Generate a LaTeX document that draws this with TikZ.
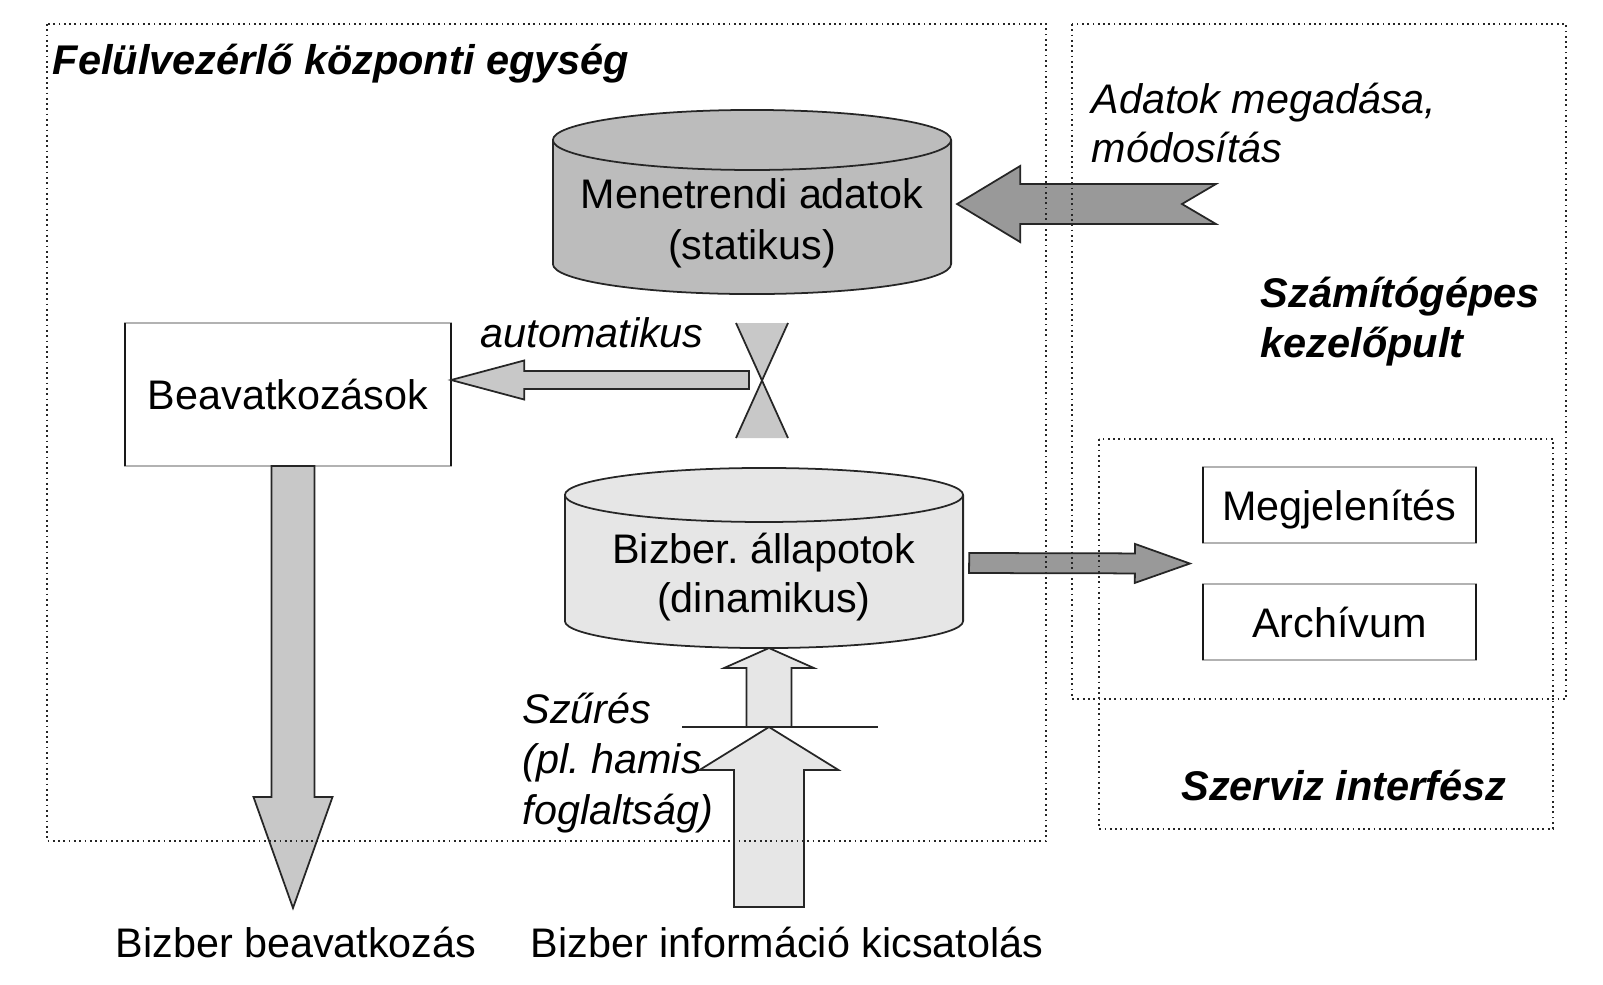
\documentclass[tikz,border=0pt]{standalone}
\usepackage{fontspec}
\setmainfont{Liberation Sans}
\frenchspacing
\usetikzlibrary{calc}
\definecolor{dbdark}{RGB}{188,188,188}
\definecolor{dblight}{RGB}{230,230,230}
\definecolor{arrowdark}{RGB}{153,153,153}
\definecolor{arrowlight}{RGB}{200,200,200}

\tikzset{
  groupframe/.style={densely dotted, line width=0.5pt, black!85},
  lbl/.style={inner sep=0pt, font=\fontsize{11.75}{13.8}\selectfont},
  italiclbl/.style={inner sep=0pt, font=\fontsize{11.75}{13.7}\selectfont\itshape},
  headlbl/.style={inner sep=0pt, font=\fontsize{11.8}{14.2}\selectfont\bfseries\itshape},
  panel/.style={lbl, rectangle, draw=black!30, line width=0.4pt, outer sep=0pt},
  panelside/.style={black!90, line width=0.5pt},
  dbbody/.style={rectangle, inner sep=0pt, outer sep=0pt},
  fatline/.style={draw=black!85, line width=0.5pt, line join=miter}
}

% database cylinder round a body node: node, end radius, fill
\newcommand{\dbshape}[3]{%
  \path[draw=black!85, line width=0.5pt, fill=#3] let \p1=(#1.north west), \p2=(#1.south east) in
    (\p1) -- (\x1,\y2) arc[start angle=180, end angle=360, x radius={(\x2-\x1)/2}, y radius=#2]
    -- (\x2,\y1) arc[start angle=0, end angle=180, x radius={(\x2-\x1)/2}, y radius=#2] -- cycle
    (\p1) arc[start angle=180, end angle=360, x radius={(\x2-\x1)/2}, y radius=#2];
}
% block arrow: style, tail, tip, shaft half width, head half width, head length, notch
\newcommand{\fatarrow}[7][]{%
  \coordinate (fa-base) at ($(#3)!#6!(#2)$);
  \draw[fatline,#1] ($(#2)!#4!90:(#3)$) -- ($(fa-base)!#4!-90:(#2)$) -- ($(fa-base)!#5!-90:(#2)$)
    -- (#3) -- ($(fa-base)!#5!90:(#2)$) -- ($(fa-base)!#4!90:(#2)$) -- ($(#2)!#4!-90:(#3)$)
    -- ($(#2)!#7!(#3)$) -- cycle;
}

\begin{document}
\begin{tikzpicture}[x=0.01cm, y=-0.01cm, node distance=1.17cm]
\useasboundingbox (0,0) rectangle (1603,984);

% databases
\node[dbbody, minimum width=3.98cm, minimum height=1.24cm] (menet) at (752,202) {};
\dbshape{menet}{0.3cm}{dbdark}
\node[lbl, align=center, font=\fontsize{11.75}{14.4}\selectfont] (menettxt) at (752,223) {Menetrendi adatok\\(statikus)};

\node[dbbody, minimum width=3.98cm, minimum height=1.26cm] (dyn) at (764,558) {};
\dbshape{dyn}{0.27cm}{dblight}
\node[lbl, align=center] (dyntxt) at (764,577) {Bizber. állapotok\\(dinamikus)};

% boxes
\node[panel, minimum width=3.26cm, minimum height=1.43cm] (beavatk) at (288,394.5) {Beavatkozások};
\node[panel, minimum width=2.73cm, minimum height=0.76cm, text depth=0pt] (megjel) at (1339.5,505) {Megjelenítés};
\node[panel, minimum width=2.73cm, minimum height=0.76cm, below of=megjel] (archiv) {Archívum};
\draw[panelside] (beavatk.north west) -- (beavatk.south west) (beavatk.north east) -- (beavatk.south east);
\draw[panelside] (megjel.north west) -- (megjel.south west) (megjel.north east) -- (megjel.south east);
\draw[panelside] (archiv.north west) -- (archiv.south west) (archiv.north east) -- (archiv.south east);

% switch
\coordinate (hg) at (762,380);
\fill[arrowlight] ($(hg)+(-26,-57)$) -- ($(hg)+(26,-57)$) -- (hg) -- cycle;
\fill[arrowlight] ($(hg)+(-26,58)$) -- ($(hg)+(26,58)$) -- (hg) -- cycle;
\draw[fatline] ($(hg)+(-26,-57)$) -- ($(hg)+(26,58)$) ($(hg)+(26,-57)$) -- ($(hg)+(-26,58)$);

% arrows
\coordinate (inptail) at (1216,204);
\coordinate (inptip) at ($(menet.east)+(6,2)$);
\fatarrow[fill=arrowdark]{inptail}{inptip}{0.2cm}{0.38cm}{0.63cm}{0.34cm}

\coordinate (autotail) at ($(hg)+(-13,0)$);
\coordinate (autotip) at (beavatk.east |- hg);
\fatarrow[fill=arrowlight]{autotail}{autotip}{0.09cm}{0.195cm}{0.73cm}{0cm}

\coordinate (dyntail) at ($(dyn.east)+(6,5)$);
\coordinate (dyntip) at ($(megjel.south west)!0.5!(archiv.north west)+(-13,0)$);
\fatarrow[fill=arrowdark]{dyntail}{dyntip}{0.1cm}{0.195cm}{0.55cm}{0cm}

\coordinate (downtail) at ($(beavatk.south)+(5,0)$);
\coordinate (downtip) at (293,908);
\fatarrow[fill=arrowlight]{downtail}{downtip}{0.215cm}{0.395cm}{1.11cm}{0cm}

\coordinate (filt) at (769,727);
\coordinate (intail) at (769,907);
\coordinate (dynbottom) at ($(dyn.south)+(5,27)$);
\fatarrow[fill=dblight]{intail}{filt}{0.35cm}{0.695cm}{0.43cm}{0cm}
\fatarrow[fill=dblight]{filt}{dynbottom}{0.225cm}{0.45cm}{0.2cm}{0cm}
\draw[fatline] ($(filt)+(-87,0)$) -- ($(filt)+(109,0)$);

% labels
\node[headlbl, anchor=base west] (title) at (52,74) {Felülvezérlő központi egység};
\node[italiclbl, align=left, anchor=west] (adatok) at (1091,123) {Adatok megadása,\\módosítás};
\node[headlbl, align=left, anchor=west] (kezelo) at (1260,322) {Számítógépes\\kezelőpult};
\node[italiclbl, anchor=base west] (auto) at (480,347) {automatikus};
\node[italiclbl, align=left, anchor=west, font=\fontsize{11.75}{14.4}\selectfont\itshape] (szures) at (522,763) {Szűrés\\(pl. hamis\\foglaltság)};
\node[headlbl, anchor=base] (szerviz) at (1344,800) {Szerviz interfész};
\node[lbl, anchor=base] (beavout) at (296,957) {Bizber beavatkozás};
\node[lbl, anchor=base] (kicsat) at (787,957) {Bizber információ kicsatolás};

% frames
\draw[groupframe] (47,24) rectangle (1046,841);
\draw[groupframe] (1072,24) rectangle (1566,699);
\draw[groupframe] (1099,439) rectangle (1553,829);
\end{tikzpicture}
\end{document}
